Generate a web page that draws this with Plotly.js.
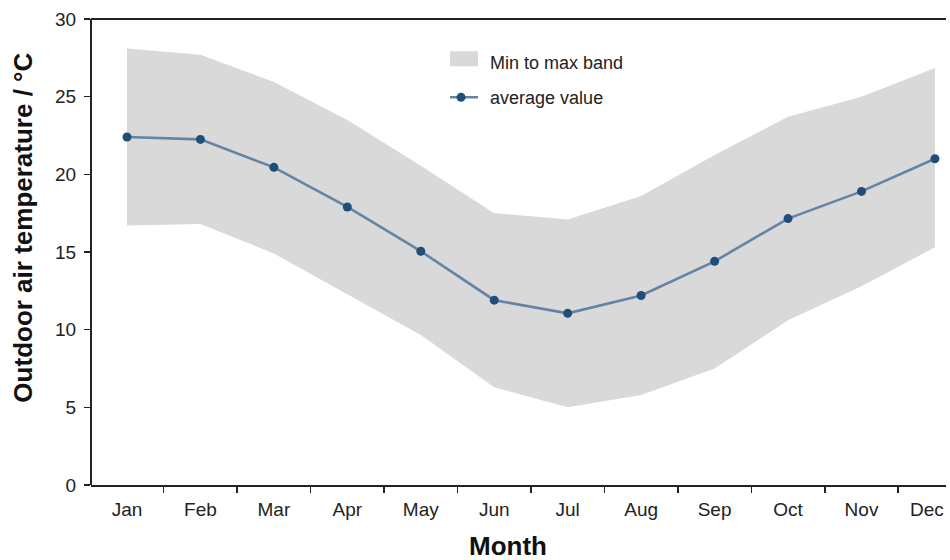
<!DOCTYPE html>
<html>
<head>
<meta charset="utf-8">
<script src="https://cdn.plot.ly/plotly-3.0.1.min.js"></script>
<style>
  html, body { margin: 0; padding: 0; background: #fff; overflow: hidden; }
  /* the plot area is left open on its right-hand side */
  #chart { width: 950px; height: 560px; clip-path: inset(0 4px 0 0); }
</style>
</head>
<body>
<div id="chart"></div>
<script>
// Monthly outdoor air temperature (°C)
const months = ["Jan", "Feb", "Mar", "Apr", "May", "Jun", "Jul", "Aug", "Sep", "Oct", "Nov", "Dec"];
const tempMax = [28.1, 27.7, 25.95, 23.5, 20.55, 17.5, 17.1, 18.6, 21.25, 23.7, 25.0, 26.85];
const tempMin = [16.7, 16.8, 14.9, 12.3, 9.65, 6.3, 5.0, 5.8, 7.5, 10.6, 12.8, 15.3];
const tempAvg = [22.4, 22.25, 20.45, 17.9, 15.05, 11.9, 11.05, 12.2, 14.4, 17.15, 18.9, 21.0];

const font = "Liberation Sans, Arial, sans-serif";
const ink = "#222";

const traces = [
  {
    x: months, y: tempMin, type: "scatter", mode: "lines",
    line: { width: 0, color: "#d9d9d9" },
    showlegend: false, hoverinfo: "skip"
  },
  {
    x: months, y: tempMax, type: "scatter", mode: "lines",
    fill: "tonexty", fillcolor: "#d9d9d9",
    line: { width: 0, color: "#d9d9d9" },
    name: "Min to max band", legend: "legend"
  },
  {
    x: months, y: tempAvg, type: "scatter", mode: "lines+markers",
    line: { width: 2.6, color: "#6484a5" },
    marker: { size: 9, color: "#1f4e79" },
    name: "average value", legend: "legend2"
  }
];

const legendFont = { family: font, size: 18, color: ink };
const titleFont = { family: font, size: 26, color: "#111" };

const layout = {
  width: 950, height: 560,
  margin: { l: 91, r: 0, t: 19, b: 75 },
  paper_bgcolor: "#fff", plot_bgcolor: "#fff",
  font: { family: font, size: 19, color: ink },
  showlegend: true,
  legend: {
    x: 0.418, y: 0.946, xanchor: "left", yanchor: "top",
    bgcolor: "rgba(0,0,0,0)", font: legendFont
  },
  legend2: {
    x: 0.418, y: 0.871, xanchor: "left", yanchor: "top",
    bgcolor: "rgba(0,0,0,0)", font: legendFont
  },
  xaxis: {
    type: "category",
    range: [-0.49, 11.205],
    tickson: "boundaries",
    ticks: "outside", ticklen: 6, tickwidth: 1.5, tickcolor: ink,
    ticklabelstandoff: 6,
    showline: true, linecolor: ink, linewidth: 2, mirror: false,
    showgrid: false, zeroline: false,
    tickfont: { family: font, size: 19, color: ink }
  },
  yaxis: {
    range: [0, 30],
    dtick: 5,
    ticks: "outside", ticklen: 6, tickwidth: 1.5, tickcolor: ink,
    ticklabelstandoff: 4,
    showline: false, mirror: false,
    showgrid: false, zeroline: false,
    tickfont: { family: font, size: 19, color: ink }
  },
  annotations: [
    { text: "<b>Month</b>", xref: "paper", yref: "paper", x: 0.485, y: -0.131,
      xanchor: "center", yanchor: "middle", showarrow: false, font: titleFont },
    { text: "<b>Outdoor air temperature / °C</b>", xref: "paper", yref: "paper",
      x: -0.079, y: 0.5526, textangle: -90,
      xanchor: "center", yanchor: "middle", showarrow: false, font: titleFont }
  ],
  // frame: top edge and left (value axis) edge of the plot area
  shapes: [
    { type: "line", xref: "paper", yref: "paper", x0: 0, x1: 1, y0: 1, y1: 1,
      line: { color: ink, width: 2 } },
    { type: "line", xref: "paper", yref: "paper", x0: 0, x1: 0, y0: 0, y1: 1,
      line: { color: ink, width: 2 } }
  ]
};

Plotly.newPlot("chart", traces, layout, { displayModeBar: false, staticPlot: true }).then(gd => {
  // larger band swatch, longer line swatch, swatches set a little away from their text
  gd.querySelectorAll(".legendfill path").forEach(p => p.setAttribute("d", "M5,-11h32v15h-32z"));
  gd.querySelectorAll(".legendlines path").forEach(p => p.setAttribute("d", "M3,0h34"));
  gd.querySelectorAll(".legendfill, .legendlines, .legendsymbols")
    .forEach(g => g.setAttribute("transform", "translate(-9,0)"));

  // keep the last month label inside the figure
  const ticks = gd.querySelectorAll(".xtick text");
  if (ticks.length) ticks[ticks.length - 1].setAttribute("dx", "-8");
});
</script>
</body>
</html>
